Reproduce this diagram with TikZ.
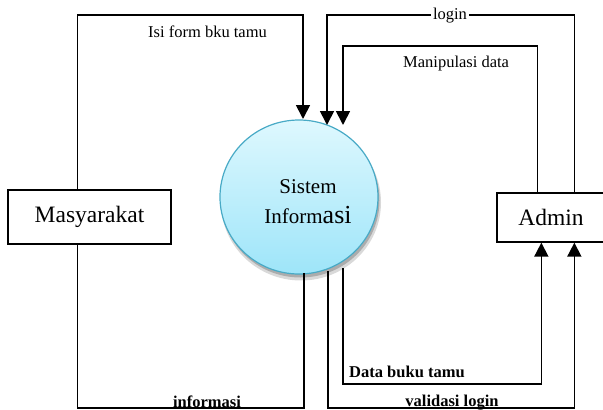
\documentclass[tikz,border=0pt]{standalone}
\usepackage{fontspec}
\setmainfont{Liberation Serif}
\usetikzlibrary{arrows.meta,shapes.geometric,calc}
\definecolor{bubtop}{RGB}{222,248,254}
\definecolor{bubbot}{RGB}{158,229,249}
\definecolor{bubedge}{RGB}{72,170,198}
\begin{document}
\begin{tikzpicture}[x=1pt,y=-1pt,
  entity/.style={draw,line width=1.3pt,minimum width=163pt,minimum height=54pt,inner sep=0pt,
    font=\fontsize{23.5}{28}\selectfont},
  flow/.style={line width=1.6pt},
  flowarr/.style={line width=1.7pt,-{Triangle[length=14pt,width=14pt]}},
  lbl/.style={font=\fontsize{16.5}{20}\selectfont,inner sep=0pt},
  blbl/.style={font=\fontsize{16.5}{20}\selectfont\bfseries,inner sep=0pt}]
\useasboundingbox (0,0) rectangle (603,410);

% process bubble with its drop shadow
\fill[gray!30] (301,202.5) ellipse (80 and 78);
\fill[gray!65] (300.5,200.5) ellipse (79 and 77);
\node[ellipse,minimum width=158pt,minimum height=154pt,draw=bubedge,line width=1.2pt,
  top color=bubtop,bottom color=bubbot,inner sep=0pt] (si) at (299,197) {};
\node[font=\fontsize{21}{25}\selectfont,anchor=base,inner sep=0pt] (t1) at (308,193) {Sistem};
\node[font=\fontsize{21}{25}\selectfont,anchor=base,inner sep=0pt] (t2) at (308,223)
  {Inform{\fontsize{26}{30}\selectfont asi}};

% external entities
\node[entity] (masy) at (89.5,217) {Masyarakat};
\node[entity,minimum width=108pt,minimum height=49pt] (adm) at (551,217.5) {Admin};

% attachment points
\coordinate (mTop) at ($(masy.north west)+(70,0)$);
\coordinate (mBot) at ($(masy.south west)+(70,0)$);
\coordinate (aTopL) at ($(adm.north west)+(41,0)$);
\coordinate (aTopR) at ($(adm.north west)+(78,0)$);
\coordinate (aBotL) at ($(adm.south west)+(45,0)$);
\coordinate (aBotR) at ($(adm.south west)+(78,0)$);
\coordinate (inIsi) at (303,119);
\coordinate (inLog) at (327,125);
\coordinate (inMan) at (343,125);
\coordinate (outInf) at (304,273);
\coordinate (outVal) at (328,271);
\coordinate (outDat) at (343,268);

% data flows
\draw[flowarr] (mTop) -- (mTop |- 0,15) -| (inIsi);
\draw[flowarr] (aTopR) -- (aTopR |- 0,15) -| (inLog);
\draw[flowarr] (aTopL) -- (aTopL |- 0,46) -| (inMan);
\draw[flow] (outInf) -- (outInf |- 0,408) -| (mBot);
\draw[flowarr] (outVal) -- (outVal |- 0,408) -| (aBotR);
\draw[flowarr] (outDat) -- (outDat |- 0,384) -| (aBotL);

% flow labels
\node[lbl,anchor=base west] (lIsi) at (148,37) {Isi form bku tamu};
\node[lbl,anchor=base,fill=white,inner sep=2pt] (lLog) at (450,19) {login};
\node[lbl,anchor=base west] (lMan) at (403,67) {Manipulasi data};
\node[blbl,anchor=base] (lInf) at (207,407) {informasi};
\node[blbl,anchor=base] (lVal) at (452,406) {validasi login};
\node[blbl,anchor=base west] (lDat) at (349,377) {Data buku tamu};
\end{tikzpicture}
\end{document}
